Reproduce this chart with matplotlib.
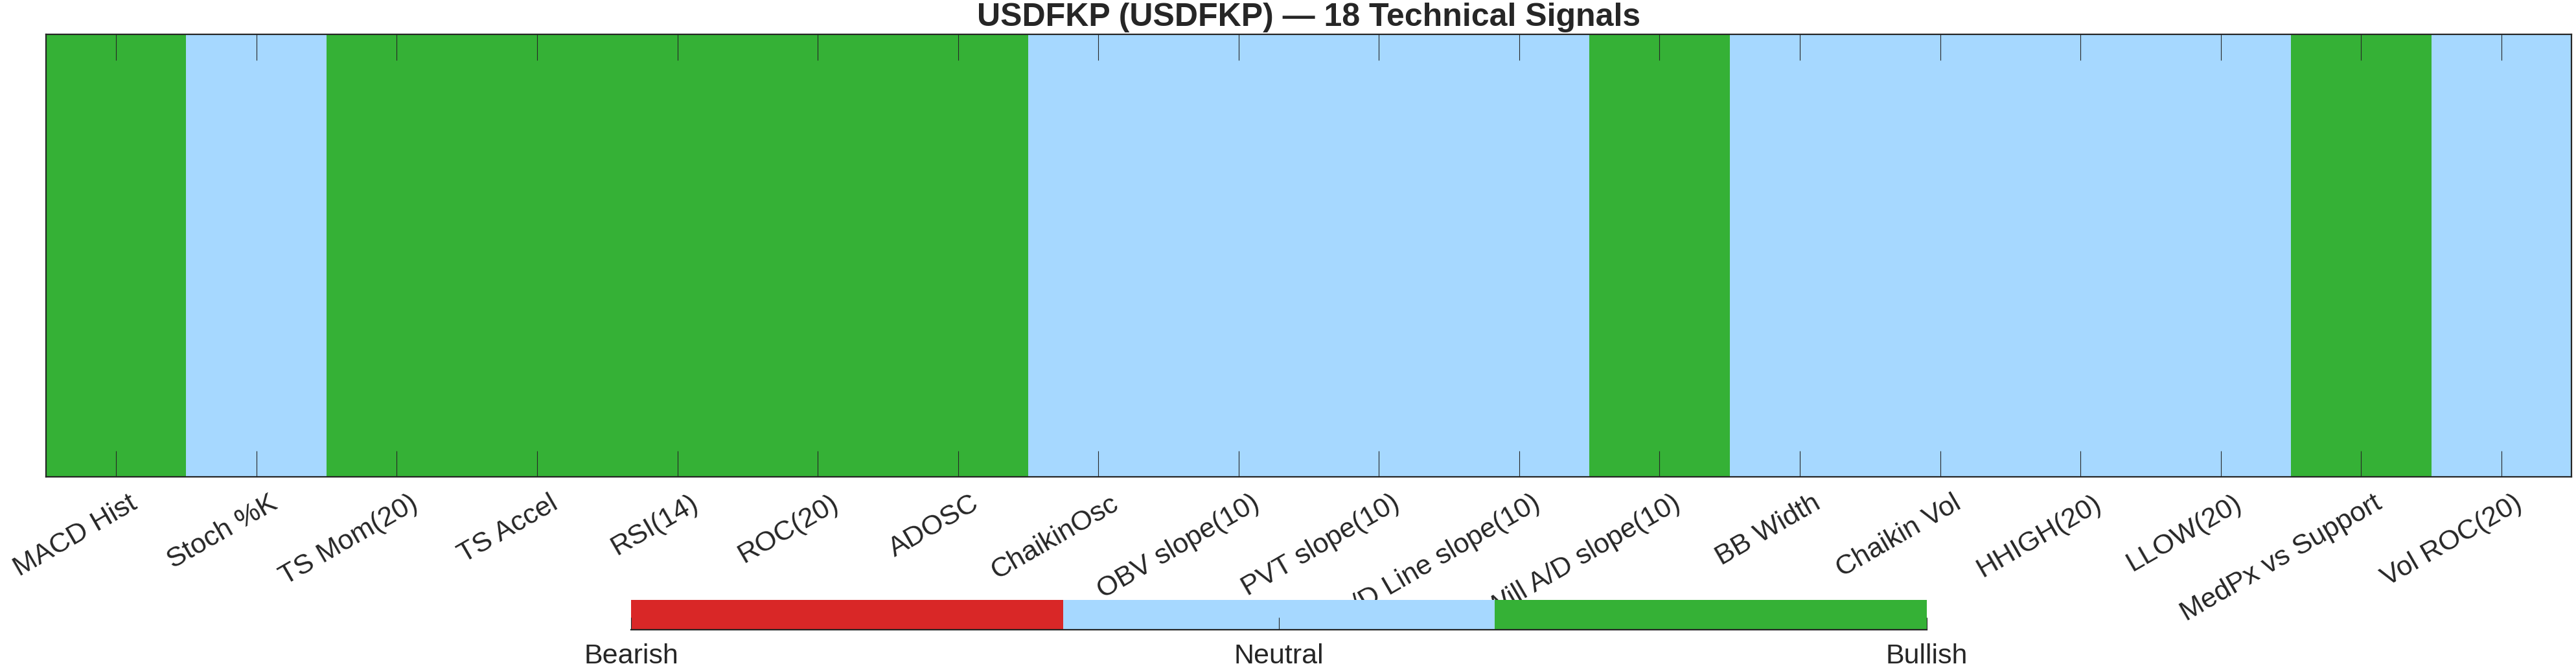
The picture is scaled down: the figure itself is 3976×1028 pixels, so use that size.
import numpy as np
import matplotlib
matplotlib.use("Agg")
from matplotlib import pyplot as plt
from matplotlib.colors import ListedColormap
from matplotlib.transforms import ScaledTranslation

# Signal data (-1 bearish, 0 neutral, 1 bullish)
signal_names = ["MACD Hist", "Stoch %K", "TS Mom(20)", "TS Accel", "RSI(14)", "ROC(20)",
                "ADOSC", "ChaikinOsc", "OBV slope(10)", "PVT slope(10)", "A/D Line slope(10)",
                "Will A/D slope(10)", "BB Width", "Chaikin Vol", "HHIGH(20)", "LLOW(20)",
                "MedPx vs Support", "Vol ROC(20)"]
signal_values = [1, 0, 1, 1, 1, 1, 1, 0, 0, 0, 0, 1, 0, 0, 0, 0, 1, 0]
state_labels = ["Bearish", "Neutral", "Bullish"]
state_ticks = [-1, 0, 1]
title = "USDFKP (USDFKP) \u2014 18 Technical Signals"

plt.rcParams["font.family"] = ["Liberation Sans", "DejaVu Sans"]
dark = (0.15, 0.15, 0.15)

cmap = ListedColormap(["#D92727", "#A6D8FF", "#35B136"])

fig = plt.figure(figsize=(39.76, 10.28), dpi=100)
ax = fig.add_axes([71 / 3976, 1 - 736 / 1028, 3898 / 3976, 683 / 1028])

n = len(signal_values)
im = ax.imshow(np.array(signal_values)[None, :], cmap=cmap, vmin=-1, vmax=1,
               aspect="auto", extent=(0.5, n + 0.5, 0, 1), interpolation="nearest")
ax.set_xlim(0.5, n + 0.5)
ax.set_ylim(0, 1)
ax.set_xticks(np.arange(1, n + 1))
ax.set_xticklabels(signal_names, rotation=30, ha="right", va="top",
                   rotation_mode="anchor", fontsize=31, color=dark)
ax.set_yticks([])
ax.tick_params(axis="x", direction="in", top=True, length=29, width=0.8,
               color=dark, pad=15)
for lab in ax.get_xticklabels():
    lab.set_transform(lab.get_transform() + ScaledTranslation(0.19, 0, fig.dpi_scale_trans))
for s in ax.spines.values():
    s.set_linewidth(1.6)
    s.set_color(dark)
ax.set_title(title, fontsize=36, fontweight="bold", color=dark, pad=9.5)

cax = fig.add_axes([974 / 3976, 1 - 972 / 1028, 2000 / 3976, 46 / 1028])
cb = fig.colorbar(im, cax=cax, orientation="horizontal", ticks=state_ticks)
cb.outline.set_visible(False)
cax.spines["bottom"].set_visible(True)
cax.spines["bottom"].set_linewidth(1.6)
cax.spines["bottom"].set_color(dark)
cb.set_ticklabels(state_labels)
cax.tick_params(direction="in", length=14, width=0.8, color=dark,
                labelsize=31, labelcolor=dark, pad=15)

fig.savefig("out.png", dpi=100)
